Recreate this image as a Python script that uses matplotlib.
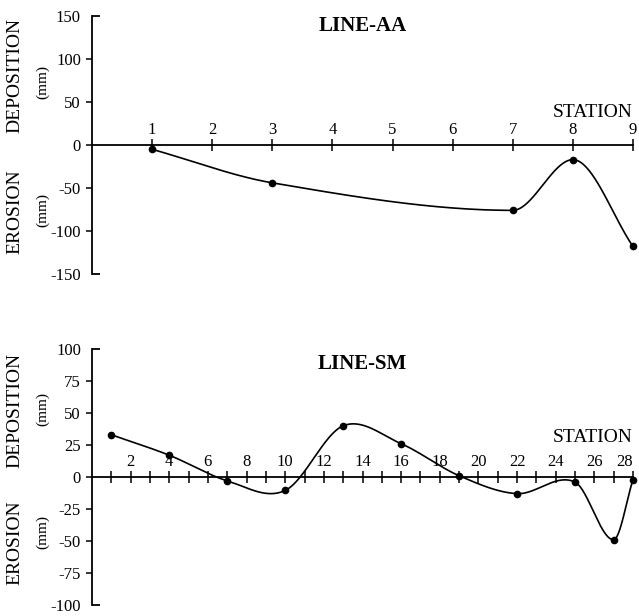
import numpy as np
import matplotlib
matplotlib.use("Agg")
import matplotlib.pyplot as plt

# ---------------- data ----------------
aa_station = [1, 3, 7, 8, 9]
aa_value = [-5, -44, -76, -17, -118]
aa_xticks = [1, 2, 3, 4, 5, 6, 7, 8, 9]
aa_yticks = [100, 50, 0, -50, -100]
aa_yends = [150, -150]

sm_station = [1, 4, 7, 10, 13, 16, 19, 22, 25, 27, 28]
sm_value = [33, 17, -3, -10.5, 40, 26, 1, -13, -4, -49, -2]
sm_xticks_major = [2, 4, 6, 8, 10, 12, 14, 16, 18, 20, 22, 24, 26, 28]
sm_yticks = [75, 50, 25, 0, -25, -50, -75]
sm_yends = [100, -100]

plt.rcParams['font.family'] = ['Liberation Serif', 'DejaVu Serif']


def tangents(x, y, method):
    x = np.asarray(x, float); y = np.asarray(y, float)
    h = np.diff(x); d = np.diff(y) / h
    n = len(x); m = np.zeros(n)
    m[0] = d[0]; m[-1] = d[-1]
    for k in range(1, n - 1):
        if method == 'pchip':
            if d[k - 1] * d[k] <= 0:
                m[k] = 0.0
            else:
                w1 = 2 * h[k] + h[k - 1]; w2 = h[k] + 2 * h[k - 1]
                m[k] = (w1 + w2) / (w1 / d[k - 1] + w2 / d[k])
        else:
            m[k] = (y[k + 1] - y[k - 1]) / (x[k + 1] - x[k - 1])
    return m


def smooth(x, y, method, n=80):
    x = np.asarray(x, float); y = np.asarray(y, float)
    m = tangents(x, y, method)
    xs, ys = [], []
    for k in range(len(x) - 1):
        h = x[k + 1] - x[k]
        t = np.linspace(0, 1, n)
        h00 = 2 * t**3 - 3 * t**2 + 1
        h10 = t**3 - 2 * t**2 + t
        h01 = -2 * t**3 + 3 * t**2
        h11 = t**3 - t**2
        xs.append(x[k] + t * h)
        ys.append(h00 * y[k] + h10 * h * m[k] + h01 * y[k + 1] + h11 * h * m[k + 1])
    return np.concatenate(xs), np.concatenate(ys)


fig = plt.figure(figsize=(6.39, 6.16), dpi=100)
ax1 = fig.add_axes([92 / 639, 1 - 274 / 616, (633 - 92) / 639, 258 / 616])
ax2 = fig.add_axes([92 / 639, 1 - 605 / 616, (633 - 92) / 639, 256 / 616])


def style(ax, xmax, yends, yticks, xt_major, xt_minor, xt_labels, title, title_y, xlabsize):
    ax.set_xlim(0, xmax)
    ax.set_ylim(yends[1], yends[0])
    for s in ['right', 'bottom']:
        ax.spines[s].set_visible(False)
    ax.spines['left'].set_linewidth(1.3)
    ax.spines['top'].set_position(('data', 0))
    ax.spines['top'].set_linewidth(1.3)
    ax.xaxis.tick_top()
    ax.set_xticks(xt_major)
    ax.set_xticklabels(xt_labels, fontsize=xlabsize)
    if xt_minor is not None:
        ax.set_xticks(xt_minor, minor=True)
    ax.tick_params(axis='x', which='both', direction='inout', length=8, width=1.1, pad=1)
    ax.set_yticks(yticks)
    ax.set_yticklabels([str(v) for v in yticks], fontsize=12)
    ax.set_yticks(yends, minor=True)
    ax.set_yticklabels([str(v) for v in yends], minor=True, fontsize=12)
    ax.tick_params(axis='y', which='major', direction='out', length=4, width=1.1, pad=4)
    ax.tick_params(axis='y', which='minor', direction='in', length=6, width=1.3, pad=8)
    ax.text(1.0, 0, 'STATION', transform=ax.get_yaxis_transform(), ha='right',
            va='bottom', fontsize=14)
    ax.set_title(title, fontsize=15, fontweight='bold', y=title_y)


style(ax1, 9, aa_yends, aa_yticks, aa_xticks, None, [str(v) for v in aa_xticks],
      'LINE-AA', 0.91, 12)
ax1.texts[0].set_position((1.0, 28))
sm_minor = list(range(1, 29))
style(ax2, 28, sm_yends, sm_yticks, sm_xticks_major, sm_minor,
      [str(v) for v in sm_xticks_major], 'LINE-SM', 0.89, 12)
ax2.texts[0].set_position((1.0, 24))
# keep the last station label inside the figure
lab = ax2.get_xticklabels()[-1]
lab.set_horizontalalignment('right')
lab.set_x(28.35)

xs, ys = smooth(aa_station, aa_value, 'pchip')
ax1.plot(xs, ys, color='black', lw=1.2, clip_on=False)
ax1.plot(aa_station, aa_value, 'o', color='black', ms=4.5, clip_on=False)

xs, ys = smooth(sm_station, sm_value, 'cardinal')
ax2.plot(xs, ys, color='black', lw=1.2, clip_on=False)
ax2.plot(sm_station, sm_value, 'o', color='black', ms=4.5, clip_on=False)

# side labels
for (txt, x, y, fs) in [('DEPOSITION', 15, 75, 14), ('(mm)', 43, 82, 11),
                        ('EROSION', 15, 212, 14), ('(mm)', 43, 210, 11),
                        ('DEPOSITION', 15, 410, 14), ('(mm)', 43, 409, 11),
                        ('EROSION', 15, 543, 14), ('(mm)', 43, 532, 11)]:
    fig.text(x / 639, 1 - y / 616, txt, rotation=90, ha='center', va='center', fontsize=fs)

fig.savefig('out.png', dpi=100)
